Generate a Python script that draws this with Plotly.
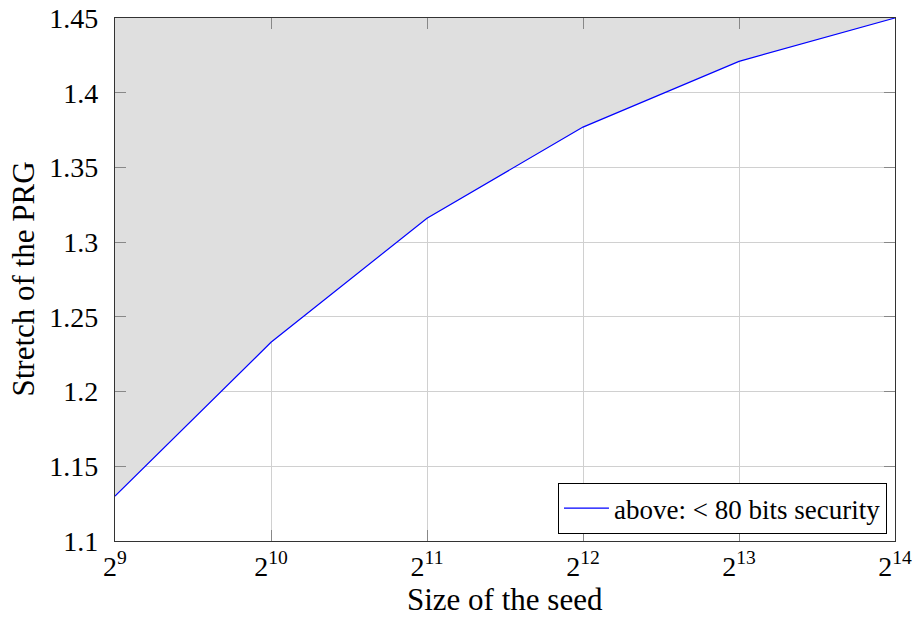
import plotly.graph_objects as go

# Data
seed_exp = [9, 10, 11, 12, 13, 14]
seed_size = [2 ** e for e in seed_exp]
stretch = [1.13, 1.233, 1.316, 1.377, 1.421, 1.45]
y_min, y_max = 1.1, 1.45
y_ticks = [1.1, 1.15, 1.2, 1.25, 1.3, 1.35, 1.4, 1.45]
y_ticktext = ["1.1", "1.15", "1.2", "1.25", "1.3", "1.35", "1.4", "1.45"]
x_ticktext = [f"2<sup>{e}</sup>" for e in seed_exp]
legend_label = "above: &lt; 80 bits security"
x_title = "Size of the seed"
y_title = "Stretch of the PRG"

FONT = "Liberation Serif"
fig = go.Figure()

# top boundary for the shaded region (axis maximum)
fig.add_trace(go.Scatter(x=seed_size, y=[y_max] * len(seed_size), mode="lines",
                         line=dict(width=0), showlegend=False, hoverinfo="skip"))
fig.add_trace(go.Scatter(x=seed_size, y=stretch, mode="lines", fill="tonexty",
                         fillcolor="#dfdfdf", line=dict(width=0),
                         showlegend=False, hoverinfo="skip"))
fig.add_trace(go.Scatter(x=seed_size, y=stretch, mode="lines",
                         line=dict(color="#0000ff", width=1.2),
                         name=legend_label))

fig.update_layout(
    width=914, height=617,
    margin=dict(l=115, r=19, t=18, b=76, autoexpand=False),
    paper_bgcolor="white", plot_bgcolor="white",
    font=dict(family=FONT, color="black"),
    showlegend=True,
    legend=dict(x=0.9897, y=0.0134, xanchor="right", yanchor="bottom",
                bordercolor="black", borderwidth=1, bgcolor="white",
                font=dict(family=FONT, size=27), tracegroupgap=0, itemwidth=45),
    annotations=[
        dict(text=x_title, xref="paper", yref="paper", x=0.5, y=0,
             xanchor="center", yanchor="middle", yshift=-58, showarrow=False,
             font=dict(family=FONT, size=31)),
        dict(text=y_title, xref="paper", yref="paper", x=0, y=0.5,
             xanchor="center", yanchor="middle", xshift=-92, textangle=-90,
             showarrow=False, font=dict(family=FONT, size=31)),
    ],
)
fig.update_xaxes(
    type="log", range=[9 * 0.30103, 14 * 0.30103],
    tickvals=seed_size, ticktext=x_ticktext, automargin=False,
    tickfont=dict(size=28), ticks="inside", ticklen=11, tickcolor="#888888",
    showgrid=True, gridcolor="#d0d0d0", gridwidth=1,
    showline=True, linecolor="#333333", linewidth=1.2, mirror="ticks",
    zeroline=False, ticklabelstandoff=0,
)
fig.update_yaxes(
    range=[y_min, y_max], tickvals=y_ticks, ticktext=y_ticktext, automargin=False,
    tickfont=dict(size=28), ticks="inside", ticklen=11, tickcolor="#888888",
    showgrid=True, gridcolor="#d0d0d0", gridwidth=1,
    showline=True, linecolor="#333333", linewidth=1.2, mirror="ticks",
    zeroline=False, ticklabelstandoff=10,
)

fig.write_html(
    "out.html",
    config={"displayModeBar": False},
    post_script="document.body.style.margin='0';document.body.style.padding='0';"
                "document.documentElement.style.margin='0';",
)
